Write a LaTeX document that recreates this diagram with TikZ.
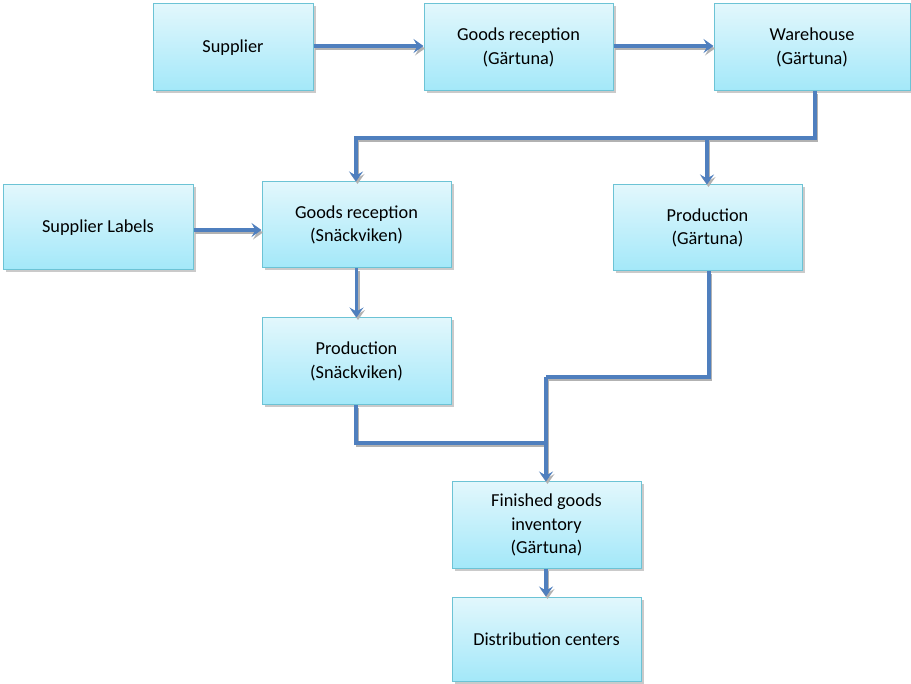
\documentclass[tikz,border=0pt]{standalone}
\usepackage{fontspec}
\setmainfont{Carlito}
\usetikzlibrary{arrows.meta,shadows,positioning}
\definecolor{boxtop}{HTML}{E2F7FC}
\definecolor{boxbot}{HTML}{A3E8F9}
\definecolor{boxedge}{HTML}{6CC3D5}
\definecolor{flow}{HTML}{4F7FBE}
\tikzset{
  stepbox/.style={draw=boxedge, line width=1pt, top color=boxtop, bottom color=boxbot,
    align=center, font=\fontsize{18.3}{23.5}\selectfont, inner sep=0pt,
    drop shadow={shadow xshift=2.5pt, shadow yshift=-2.5pt, fill=black!35, opacity=0.6}},
  flowline/.style={draw=flow, line width=3.2pt,
    -{Stealth[length=10pt,width=14pt,inset=4pt]},
    preaction={draw=black!30, line width=3pt, transform canvas={shift={(1.5pt,-2.5pt)}}}},
  joinline/.style={draw=flow, line width=3.2pt,
    preaction={draw=black!30, line width=3pt, transform canvas={shift={(1.5pt,-2.5pt)}}}}
}
\begin{document}
\begin{tikzpicture}[x=1pt,y=-1pt]
\useasboundingbox (0,0) rectangle (911,684);
% boxes: centre x, centre y, width, height (in px)
\node[stepbox, minimum width=160pt, minimum height=87pt] (sup) at (233,47.5) {Supplier};
\node[stepbox, minimum width=189pt, minimum height=87pt] (grg) at (518.5,47.5) {Goods reception\\(Gärtuna)};
\node[stepbox, minimum width=196pt, minimum height=87pt] (wh) at (812,47.5) {Warehouse\\(Gärtuna)};
\node[stepbox, minimum width=190pt, minimum height=85pt] (sl) at (98,227.5) {Supplier Labels};
\node[stepbox, minimum width=189pt, minimum height=86pt] (grs) at (356.5,225) {Goods reception\\(Snäckviken)};
\node[stepbox, minimum width=189pt, minimum height=86pt] (pg) at (707.5,228) {Production\\(Gärtuna)};
\node[stepbox, minimum width=189pt, minimum height=87pt] (ps) at (356.5,361.5) {Production\\(Snäckviken)};
\node[stepbox, minimum width=189pt, minimum height=86pt] (fgi) at (546.5,525) {Finished goods\\inventory\\(Gärtuna)};
\node[stepbox, minimum width=189pt, minimum height=84pt] (dc) at (546.5,639) {Distribution centers};
% junction points
\coordinate (whdown) at (815,138);
\coordinate (splitg) at (707,138);
\coordinate (splits) at (356,138);
\coordinate (psdown) at (356,443);
\coordinate (merge) at (546,443);
\coordinate (pgdown) at (709,377);
\coordinate (pgleft) at (546,377);
% connectors
\draw[flowline] (sup.east |- 0,46) -- (grg.west |- 0,46);
\draw[flowline] (grg.east |- 0,46) -- (wh.west |- 0,46);
\draw[joinline] (wh.south -| whdown) -- (whdown) -- (splitg);
\draw[flowline] (splitg) -- (splits) -- (grs.north -| splits);
\draw[flowline] (splitg) -- (pg.north -| splitg);
\draw[flowline] (sl.east |- 0,230) -- (grs.west |- 0,230);
\draw[flowline] (grs.south) -- (ps.north);
\draw[joinline] (ps.south -| psdown) -- (psdown) -- (merge);
\draw[joinline] (pg.south -| pgdown) -- (pgdown) -- (pgleft);
\draw[flowline] (pgleft) -- (fgi.north -| pgleft);
\draw[flowline] (fgi.south -| pgleft) -- (dc.north -| pgleft);
\end{tikzpicture}
\end{document}
